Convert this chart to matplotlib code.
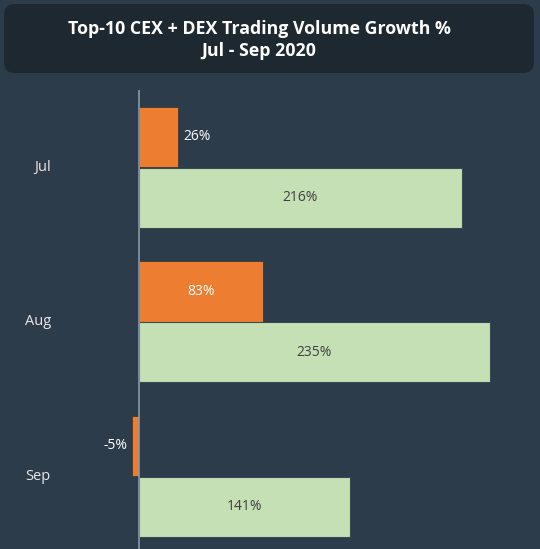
import numpy as np
import matplotlib.pyplot as plt
from matplotlib.patches import FancyBboxPatch

months = ["Jul", "Aug", "Sep"]
cex_dex = [26, 83, -5]
other = [216, 235, 141]

bg = "#2d3c4b"
orange = "#ed7d31"
green = "#c5e0b4"

plt.rcParams['font.family'] = ['Open Sans', 'DejaVu Sans']

fig = plt.figure(figsize=(5.4, 5.49), dpi=100)
fig.patch.set_facecolor(bg)

# title box
box = FancyBboxPatch((4 / 540, 1 - 73 / 549), 530 / 540, 69 / 549,
                     boxstyle="round,pad=0,rounding_size=0.02",
                     transform=fig.transFigure, facecolor="#1e2830",
                     edgecolor="none")
fig.patches.append(box)
fig.text(259 / 540, 1 - 40 / 549, "Top-10 CEX + DEX Trading Volume Growth %\nJul - Sep 2020",
         ha="center", va="center", color="white", fontsize=12.8,
         fontweight="bold", linespacing=1.25)

ax = fig.add_axes([0, 0, 1, 459 / 549])
ax.set_facecolor(bg)
y = np.arange(len(months))
h = 0.39
ax.barh(y - 0.197, cex_dex, height=h, color=orange, edgecolor="#3a3a3a", linewidth=0.6)
ax.barh(y + 0.197, other, height=h, color=green, edgecolor="#3a4a55", linewidth=0.8)

ax.set_xlim(-139 / 1.494, (540 - 139) / 1.494)
ax.set_ylim(2.47, -0.5)
for s in ax.spines.values():
    s.set_visible(False)
ax.axvline(0, color="#8a99a6", linewidth=1.2)
ax.set_xticks([])
ax.set_yticks([])

for i, m in enumerate(months):
    ax.text(-59, i, m, ha="right", va="center", color="#e8e8e8", fontsize=10.5)

for i, v in enumerate(cex_dex):
    if v >= 50:
        ax.text(v / 2, i - 0.197, f"{v}%", ha="center", va="center", color="white", fontsize=10)
    elif v >= 0:
        ax.text(v + 4, i - 0.197, f"{v}%", ha="left", va="center", color="white", fontsize=10)
    else:
        ax.text(v - 3, i - 0.197, f"{v}%", ha="right", va="center", color="white", fontsize=10)

for i, v in enumerate(other):
    ax.text(v / 2, i + 0.197, f"{v}%", ha="center", va="center", color="#404040", fontsize=10)

fig.savefig("out.png", dpi=100, facecolor=bg)
